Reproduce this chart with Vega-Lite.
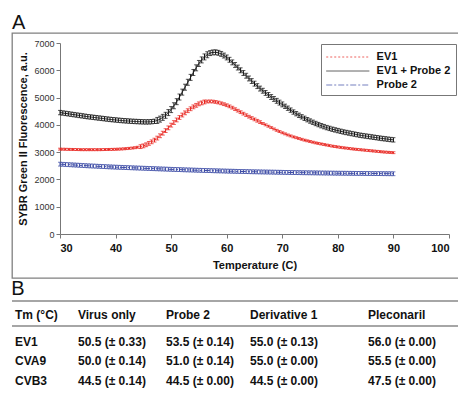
{
"$schema":"https://vega.github.io/schema/vega-lite/v6.json",
"padding":{"left":11,"top":12,"right":0,"bottom":0},
"spacing":0,
"config":{"font":"Liberation Sans","view":{"stroke":null}},
"datasets":{
"curves":[
{"s":"EV1","t":30,"v":3110,"e":35},{"s":"EV1","t":30.5,"v":3108,"e":35},{"s":"EV1","t":31,"v":3105,"e":35},{"s":"EV1","t":31.5,"v":3102,"e":35},{"s":"EV1","t":32,"v":3100,"e":35},{"s":"EV1","t":32.5,"v":3098,"e":35},{"s":"EV1","t":33,"v":3095,"e":35},{"s":"EV1","t":33.5,"v":3092,"e":35},{"s":"EV1","t":34,"v":3090,"e":35},{"s":"EV1","t":34.5,"v":3090,"e":35},{"s":"EV1","t":35,"v":3090,"e":35},{"s":"EV1","t":35.5,"v":3090,"e":35},{"s":"EV1","t":36,"v":3090,"e":35},{"s":"EV1","t":36.5,"v":3090,"e":35},{"s":"EV1","t":37,"v":3090,"e":35},{"s":"EV1","t":37.5,"v":3092,"e":35},{"s":"EV1","t":38,"v":3095,"e":35},{"s":"EV1","t":38.5,"v":3097,"e":35},{"s":"EV1","t":39,"v":3100,"e":35},{"s":"EV1","t":39.5,"v":3102,"e":35},{"s":"EV1","t":40,"v":3105,"e":35},{"s":"EV1","t":40.5,"v":3110,"e":35},{"s":"EV1","t":41,"v":3115,"e":35},{"s":"EV1","t":41.5,"v":3122,"e":35},{"s":"EV1","t":42,"v":3130,"e":35},{"s":"EV1","t":42.5,"v":3140,"e":35},{"s":"EV1","t":43,"v":3150,"e":35},{"s":"EV1","t":43.5,"v":3163,"e":35},{"s":"EV1","t":44,"v":3180,"e":35},{"s":"EV1","t":44.5,"v":3202,"e":70},{"s":"EV1","t":45,"v":3230,"e":70},{"s":"EV1","t":45.5,"v":3270,"e":70},{"s":"EV1","t":46,"v":3320,"e":70},{"s":"EV1","t":46.5,"v":3378,"e":70},{"s":"EV1","t":47,"v":3440,"e":70},{"s":"EV1","t":47.5,"v":3515,"e":70},{"s":"EV1","t":48,"v":3600,"e":70},{"s":"EV1","t":48.5,"v":3695,"e":70},{"s":"EV1","t":49,"v":3790,"e":70},{"s":"EV1","t":49.5,"v":3890,"e":70},{"s":"EV1","t":50,"v":3990,"e":70},{"s":"EV1","t":50.5,"v":4085,"e":70},{"s":"EV1","t":51,"v":4180,"e":70},{"s":"EV1","t":51.5,"v":4270,"e":70},{"s":"EV1","t":52,"v":4360,"e":70},{"s":"EV1","t":52.5,"v":4440,"e":70},{"s":"EV1","t":53,"v":4520,"e":70},{"s":"EV1","t":53.5,"v":4590,"e":70},{"s":"EV1","t":54,"v":4660,"e":70},{"s":"EV1","t":54.5,"v":4715,"e":70},{"s":"EV1","t":55,"v":4770,"e":70},{"s":"EV1","t":55.5,"v":4805,"e":70},{"s":"EV1","t":56,"v":4840,"e":70},{"s":"EV1","t":56.5,"v":4855,"e":50},{"s":"EV1","t":57,"v":4860,"e":50},{"s":"EV1","t":57.5,"v":4855,"e":50},{"s":"EV1","t":58,"v":4840,"e":50},{"s":"EV1","t":58.5,"v":4818,"e":50},{"s":"EV1","t":59,"v":4790,"e":50},{"s":"EV1","t":59.5,"v":4758,"e":50},{"s":"EV1","t":60,"v":4720,"e":50},{"s":"EV1","t":60.5,"v":4678,"e":50},{"s":"EV1","t":61,"v":4630,"e":50},{"s":"EV1","t":61.5,"v":4575,"e":50},{"s":"EV1","t":62,"v":4520,"e":50},{"s":"EV1","t":62.5,"v":4465,"e":50},{"s":"EV1","t":63,"v":4410,"e":50},{"s":"EV1","t":63.5,"v":4355,"e":50},{"s":"EV1","t":64,"v":4300,"e":50},{"s":"EV1","t":64.5,"v":4250,"e":50},{"s":"EV1","t":65,"v":4200,"e":50},{"s":"EV1","t":65.5,"v":4150,"e":50},{"s":"EV1","t":66,"v":4100,"e":50},{"s":"EV1","t":66.5,"v":4050,"e":35},{"s":"EV1","t":67,"v":4000,"e":35},{"s":"EV1","t":67.5,"v":3950,"e":35},{"s":"EV1","t":68,"v":3900,"e":35},{"s":"EV1","t":68.5,"v":3850,"e":35},{"s":"EV1","t":69,"v":3800,"e":35},{"s":"EV1","t":69.5,"v":3755,"e":35},{"s":"EV1","t":70,"v":3710,"e":35},{"s":"EV1","t":70.5,"v":3670,"e":35},{"s":"EV1","t":71,"v":3630,"e":35},{"s":"EV1","t":71.5,"v":3595,"e":35},{"s":"EV1","t":72,"v":3560,"e":35},{"s":"EV1","t":72.5,"v":3530,"e":35},{"s":"EV1","t":73,"v":3500,"e":35},{"s":"EV1","t":73.5,"v":3470,"e":35},{"s":"EV1","t":74,"v":3440,"e":35},{"s":"EV1","t":74.5,"v":3415,"e":35},{"s":"EV1","t":75,"v":3390,"e":35},{"s":"EV1","t":75.5,"v":3365,"e":35},{"s":"EV1","t":76,"v":3340,"e":35},{"s":"EV1","t":76.5,"v":3320,"e":35},{"s":"EV1","t":77,"v":3300,"e":35},{"s":"EV1","t":77.5,"v":3280,"e":35},{"s":"EV1","t":78,"v":3260,"e":35},{"s":"EV1","t":78.5,"v":3240,"e":35},{"s":"EV1","t":79,"v":3220,"e":35},{"s":"EV1","t":79.5,"v":3205,"e":35},{"s":"EV1","t":80,"v":3190,"e":35},{"s":"EV1","t":80.5,"v":3175,"e":35},{"s":"EV1","t":81,"v":3160,"e":35},{"s":"EV1","t":81.5,"v":3148,"e":35},{"s":"EV1","t":82,"v":3135,"e":35},{"s":"EV1","t":82.5,"v":3122,"e":35},{"s":"EV1","t":83,"v":3110,"e":35},{"s":"EV1","t":83.5,"v":3100,"e":35},{"s":"EV1","t":84,"v":3090,"e":35},{"s":"EV1","t":84.5,"v":3080,"e":35},{"s":"EV1","t":85,"v":3070,"e":35},{"s":"EV1","t":85.5,"v":3060,"e":35},{"s":"EV1","t":86,"v":3050,"e":35},{"s":"EV1","t":86.5,"v":3040,"e":35},{"s":"EV1","t":87,"v":3030,"e":35},{"s":"EV1","t":87.5,"v":3020,"e":35},{"s":"EV1","t":88,"v":3010,"e":35},{"s":"EV1","t":88.5,"v":3002,"e":35},{"s":"EV1","t":89,"v":2995,"e":35},{"s":"EV1","t":89.5,"v":2988,"e":35},{"s":"EV1","t":90,"v":2980,"e":35},
{"s":"EV1 + Probe 2","t":30,"v":4450,"e":80},{"s":"EV1 + Probe 2","t":30.5,"v":4435,"e":80},{"s":"EV1 + Probe 2","t":31,"v":4420,"e":80},{"s":"EV1 + Probe 2","t":31.5,"v":4405,"e":80},{"s":"EV1 + Probe 2","t":32,"v":4390,"e":80},{"s":"EV1 + Probe 2","t":32.5,"v":4375,"e":80},{"s":"EV1 + Probe 2","t":33,"v":4360,"e":80},{"s":"EV1 + Probe 2","t":33.5,"v":4345,"e":80},{"s":"EV1 + Probe 2","t":34,"v":4330,"e":80},{"s":"EV1 + Probe 2","t":34.5,"v":4315,"e":80},{"s":"EV1 + Probe 2","t":35,"v":4300,"e":80},{"s":"EV1 + Probe 2","t":35.5,"v":4288,"e":80},{"s":"EV1 + Probe 2","t":36,"v":4275,"e":80},{"s":"EV1 + Probe 2","t":36.5,"v":4262,"e":80},{"s":"EV1 + Probe 2","t":37,"v":4250,"e":80},{"s":"EV1 + Probe 2","t":37.5,"v":4238,"e":80},{"s":"EV1 + Probe 2","t":38,"v":4225,"e":80},{"s":"EV1 + Probe 2","t":38.5,"v":4212,"e":80},{"s":"EV1 + Probe 2","t":39,"v":4200,"e":80},{"s":"EV1 + Probe 2","t":39.5,"v":4190,"e":80},{"s":"EV1 + Probe 2","t":40,"v":4180,"e":80},{"s":"EV1 + Probe 2","t":40.5,"v":4170,"e":80},{"s":"EV1 + Probe 2","t":41,"v":4160,"e":80},{"s":"EV1 + Probe 2","t":41.5,"v":4152,"e":80},{"s":"EV1 + Probe 2","t":42,"v":4145,"e":80},{"s":"EV1 + Probe 2","t":42.5,"v":4138,"e":80},{"s":"EV1 + Probe 2","t":43,"v":4130,"e":80},{"s":"EV1 + Probe 2","t":43.5,"v":4125,"e":80},{"s":"EV1 + Probe 2","t":44,"v":4120,"e":80},{"s":"EV1 + Probe 2","t":44.5,"v":4115,"e":80},{"s":"EV1 + Probe 2","t":45,"v":4110,"e":80},{"s":"EV1 + Probe 2","t":45.5,"v":4108,"e":80},{"s":"EV1 + Probe 2","t":46,"v":4110,"e":80},{"s":"EV1 + Probe 2","t":46.5,"v":4117,"e":80},{"s":"EV1 + Probe 2","t":47,"v":4130,"e":80},{"s":"EV1 + Probe 2","t":47.5,"v":4162,"e":110},{"s":"EV1 + Probe 2","t":48,"v":4210,"e":110},{"s":"EV1 + Probe 2","t":48.5,"v":4275,"e":110},{"s":"EV1 + Probe 2","t":49,"v":4350,"e":110},{"s":"EV1 + Probe 2","t":49.5,"v":4450,"e":110},{"s":"EV1 + Probe 2","t":50,"v":4560,"e":110},{"s":"EV1 + Probe 2","t":50.5,"v":4700,"e":110},{"s":"EV1 + Probe 2","t":51,"v":4850,"e":110},{"s":"EV1 + Probe 2","t":51.5,"v":5020,"e":110},{"s":"EV1 + Probe 2","t":52,"v":5200,"e":110},{"s":"EV1 + Probe 2","t":52.5,"v":5380,"e":110},{"s":"EV1 + Probe 2","t":53,"v":5560,"e":110},{"s":"EV1 + Probe 2","t":53.5,"v":5740,"e":110},{"s":"EV1 + Probe 2","t":54,"v":5920,"e":110},{"s":"EV1 + Probe 2","t":54.5,"v":6090,"e":110},{"s":"EV1 + Probe 2","t":55,"v":6250,"e":110},{"s":"EV1 + Probe 2","t":55.5,"v":6380,"e":110},{"s":"EV1 + Probe 2","t":56,"v":6490,"e":110},{"s":"EV1 + Probe 2","t":56.5,"v":6570,"e":110},{"s":"EV1 + Probe 2","t":57,"v":6630,"e":90},{"s":"EV1 + Probe 2","t":57.5,"v":6655,"e":90},{"s":"EV1 + Probe 2","t":58,"v":6660,"e":90},{"s":"EV1 + Probe 2","t":58.5,"v":6640,"e":90},{"s":"EV1 + Probe 2","t":59,"v":6600,"e":90},{"s":"EV1 + Probe 2","t":59.5,"v":6540,"e":90},{"s":"EV1 + Probe 2","t":60,"v":6470,"e":90},{"s":"EV1 + Probe 2","t":60.5,"v":6385,"e":90},{"s":"EV1 + Probe 2","t":61,"v":6290,"e":90},{"s":"EV1 + Probe 2","t":61.5,"v":6195,"e":90},{"s":"EV1 + Probe 2","t":62,"v":6100,"e":90},{"s":"EV1 + Probe 2","t":62.5,"v":6000,"e":90},{"s":"EV1 + Probe 2","t":63,"v":5900,"e":90},{"s":"EV1 + Probe 2","t":63.5,"v":5800,"e":90},{"s":"EV1 + Probe 2","t":64,"v":5700,"e":90},{"s":"EV1 + Probe 2","t":64.5,"v":5605,"e":90},{"s":"EV1 + Probe 2","t":65,"v":5510,"e":90},{"s":"EV1 + Probe 2","t":65.5,"v":5420,"e":90},{"s":"EV1 + Probe 2","t":66,"v":5330,"e":90},{"s":"EV1 + Probe 2","t":66.5,"v":5250,"e":90},{"s":"EV1 + Probe 2","t":67,"v":5170,"e":90},{"s":"EV1 + Probe 2","t":67.5,"v":5095,"e":90},{"s":"EV1 + Probe 2","t":68,"v":5020,"e":90},{"s":"EV1 + Probe 2","t":68.5,"v":4950,"e":90},{"s":"EV1 + Probe 2","t":69,"v":4880,"e":90},{"s":"EV1 + Probe 2","t":69.5,"v":4815,"e":90},{"s":"EV1 + Probe 2","t":70,"v":4750,"e":90},{"s":"EV1 + Probe 2","t":70.5,"v":4680,"e":80},{"s":"EV1 + Probe 2","t":71,"v":4610,"e":80},{"s":"EV1 + Probe 2","t":71.5,"v":4540,"e":80},{"s":"EV1 + Probe 2","t":72,"v":4470,"e":80},{"s":"EV1 + Probe 2","t":72.5,"v":4410,"e":80},{"s":"EV1 + Probe 2","t":73,"v":4350,"e":80},{"s":"EV1 + Probe 2","t":73.5,"v":4295,"e":80},{"s":"EV1 + Probe 2","t":74,"v":4240,"e":80},{"s":"EV1 + Probe 2","t":74.5,"v":4190,"e":80},{"s":"EV1 + Probe 2","t":75,"v":4140,"e":80},{"s":"EV1 + Probe 2","t":75.5,"v":4095,"e":80},{"s":"EV1 + Probe 2","t":76,"v":4050,"e":80},{"s":"EV1 + Probe 2","t":76.5,"v":4010,"e":80},{"s":"EV1 + Probe 2","t":77,"v":3970,"e":80},{"s":"EV1 + Probe 2","t":77.5,"v":3935,"e":80},{"s":"EV1 + Probe 2","t":78,"v":3900,"e":80},{"s":"EV1 + Probe 2","t":78.5,"v":3870,"e":80},{"s":"EV1 + Probe 2","t":79,"v":3840,"e":80},{"s":"EV1 + Probe 2","t":79.5,"v":3815,"e":80},{"s":"EV1 + Probe 2","t":80,"v":3790,"e":80},{"s":"EV1 + Probe 2","t":80.5,"v":3765,"e":80},{"s":"EV1 + Probe 2","t":81,"v":3740,"e":80},{"s":"EV1 + Probe 2","t":81.5,"v":3720,"e":80},{"s":"EV1 + Probe 2","t":82,"v":3700,"e":80},{"s":"EV1 + Probe 2","t":82.5,"v":3680,"e":80},{"s":"EV1 + Probe 2","t":83,"v":3660,"e":80},{"s":"EV1 + Probe 2","t":83.5,"v":3640,"e":80},{"s":"EV1 + Probe 2","t":84,"v":3620,"e":80},{"s":"EV1 + Probe 2","t":84.5,"v":3605,"e":80},{"s":"EV1 + Probe 2","t":85,"v":3590,"e":80},{"s":"EV1 + Probe 2","t":85.5,"v":3575,"e":80},{"s":"EV1 + Probe 2","t":86,"v":3560,"e":80},{"s":"EV1 + Probe 2","t":86.5,"v":3545,"e":80},{"s":"EV1 + Probe 2","t":87,"v":3530,"e":80},{"s":"EV1 + Probe 2","t":87.5,"v":3515,"e":80},{"s":"EV1 + Probe 2","t":88,"v":3500,"e":80},{"s":"EV1 + Probe 2","t":88.5,"v":3488,"e":80},{"s":"EV1 + Probe 2","t":89,"v":3475,"e":80},{"s":"EV1 + Probe 2","t":89.5,"v":3462,"e":80},{"s":"EV1 + Probe 2","t":90,"v":3450,"e":80},
{"s":"Probe 2","t":30,"v":2560,"e":70},{"s":"Probe 2","t":30.5,"v":2554,"e":70},{"s":"Probe 2","t":31,"v":2548,"e":70},{"s":"Probe 2","t":31.5,"v":2542,"e":70},{"s":"Probe 2","t":32,"v":2536,"e":70},{"s":"Probe 2","t":32.5,"v":2530,"e":70},{"s":"Probe 2","t":33,"v":2524,"e":70},{"s":"Probe 2","t":33.5,"v":2518,"e":70},{"s":"Probe 2","t":34,"v":2512,"e":70},{"s":"Probe 2","t":34.5,"v":2506,"e":70},{"s":"Probe 2","t":35,"v":2500,"e":70},{"s":"Probe 2","t":35.5,"v":2495,"e":70},{"s":"Probe 2","t":36,"v":2490,"e":70},{"s":"Probe 2","t":36.5,"v":2485,"e":70},{"s":"Probe 2","t":37,"v":2480,"e":70},{"s":"Probe 2","t":37.5,"v":2475,"e":70},{"s":"Probe 2","t":38,"v":2470,"e":70},{"s":"Probe 2","t":38.5,"v":2465,"e":70},{"s":"Probe 2","t":39,"v":2460,"e":70},{"s":"Probe 2","t":39.5,"v":2455,"e":70},{"s":"Probe 2","t":40,"v":2450,"e":70},{"s":"Probe 2","t":40.5,"v":2446,"e":70},{"s":"Probe 2","t":41,"v":2442,"e":70},{"s":"Probe 2","t":41.5,"v":2438,"e":70},{"s":"Probe 2","t":42,"v":2434,"e":70},{"s":"Probe 2","t":42.5,"v":2430,"e":70},{"s":"Probe 2","t":43,"v":2426,"e":70},{"s":"Probe 2","t":43.5,"v":2422,"e":70},{"s":"Probe 2","t":44,"v":2418,"e":70},{"s":"Probe 2","t":44.5,"v":2414,"e":70},{"s":"Probe 2","t":45,"v":2410,"e":70},{"s":"Probe 2","t":45.5,"v":2406,"e":70},{"s":"Probe 2","t":46,"v":2402,"e":70},{"s":"Probe 2","t":46.5,"v":2398,"e":70},{"s":"Probe 2","t":47,"v":2394,"e":70},{"s":"Probe 2","t":47.5,"v":2390,"e":70},{"s":"Probe 2","t":48,"v":2386,"e":70},{"s":"Probe 2","t":48.5,"v":2382,"e":70},{"s":"Probe 2","t":49,"v":2378,"e":70},{"s":"Probe 2","t":49.5,"v":2374,"e":70},{"s":"Probe 2","t":50,"v":2370,"e":70},{"s":"Probe 2","t":50.5,"v":2366,"e":70},{"s":"Probe 2","t":51,"v":2363,"e":70},{"s":"Probe 2","t":51.5,"v":2360,"e":70},{"s":"Probe 2","t":52,"v":2356,"e":70},{"s":"Probe 2","t":52.5,"v":2352,"e":70},{"s":"Probe 2","t":53,"v":2349,"e":70},{"s":"Probe 2","t":53.5,"v":2346,"e":70},{"s":"Probe 2","t":54,"v":2342,"e":70},{"s":"Probe 2","t":54.5,"v":2338,"e":70},{"s":"Probe 2","t":55,"v":2335,"e":70},{"s":"Probe 2","t":55.5,"v":2332,"e":70},{"s":"Probe 2","t":56,"v":2329,"e":70},{"s":"Probe 2","t":56.5,"v":2326,"e":70},{"s":"Probe 2","t":57,"v":2323,"e":70},{"s":"Probe 2","t":57.5,"v":2320,"e":70},{"s":"Probe 2","t":58,"v":2317,"e":70},{"s":"Probe 2","t":58.5,"v":2314,"e":70},{"s":"Probe 2","t":59,"v":2311,"e":70},{"s":"Probe 2","t":59.5,"v":2308,"e":70},{"s":"Probe 2","t":60,"v":2305,"e":70},{"s":"Probe 2","t":60.5,"v":2302,"e":70},{"s":"Probe 2","t":61,"v":2300,"e":70},{"s":"Probe 2","t":61.5,"v":2297,"e":70},{"s":"Probe 2","t":62,"v":2295,"e":70},{"s":"Probe 2","t":62.5,"v":2292,"e":70},{"s":"Probe 2","t":63,"v":2290,"e":70},{"s":"Probe 2","t":63.5,"v":2287,"e":70},{"s":"Probe 2","t":64,"v":2285,"e":70},{"s":"Probe 2","t":64.5,"v":2282,"e":70},{"s":"Probe 2","t":65,"v":2280,"e":70},{"s":"Probe 2","t":65.5,"v":2278,"e":70},{"s":"Probe 2","t":66,"v":2276,"e":70},{"s":"Probe 2","t":66.5,"v":2274,"e":70},{"s":"Probe 2","t":67,"v":2272,"e":70},{"s":"Probe 2","t":67.5,"v":2270,"e":70},{"s":"Probe 2","t":68,"v":2268,"e":70},{"s":"Probe 2","t":68.5,"v":2266,"e":70},{"s":"Probe 2","t":69,"v":2264,"e":70},{"s":"Probe 2","t":69.5,"v":2262,"e":70},{"s":"Probe 2","t":70,"v":2260,"e":70},{"s":"Probe 2","t":70.5,"v":2258,"e":70},{"s":"Probe 2","t":71,"v":2256,"e":70},{"s":"Probe 2","t":71.5,"v":2254,"e":70},{"s":"Probe 2","t":72,"v":2252,"e":70},{"s":"Probe 2","t":72.5,"v":2250,"e":70},{"s":"Probe 2","t":73,"v":2249,"e":70},{"s":"Probe 2","t":73.5,"v":2247,"e":70},{"s":"Probe 2","t":74,"v":2246,"e":70},{"s":"Probe 2","t":74.5,"v":2244,"e":70},{"s":"Probe 2","t":75,"v":2243,"e":70},{"s":"Probe 2","t":75.5,"v":2241,"e":70},{"s":"Probe 2","t":76,"v":2240,"e":70},{"s":"Probe 2","t":76.5,"v":2238,"e":70},{"s":"Probe 2","t":77,"v":2237,"e":70},{"s":"Probe 2","t":77.5,"v":2235,"e":70},{"s":"Probe 2","t":78,"v":2234,"e":70},{"s":"Probe 2","t":78.5,"v":2232,"e":70},{"s":"Probe 2","t":79,"v":2231,"e":70},{"s":"Probe 2","t":79.5,"v":2229,"e":70},{"s":"Probe 2","t":80,"v":2228,"e":70},{"s":"Probe 2","t":80.5,"v":2227,"e":70},{"s":"Probe 2","t":81,"v":2226,"e":70},{"s":"Probe 2","t":81.5,"v":2225,"e":70},{"s":"Probe 2","t":82,"v":2224,"e":70},{"s":"Probe 2","t":82.5,"v":2223,"e":70},{"s":"Probe 2","t":83,"v":2222,"e":70},{"s":"Probe 2","t":83.5,"v":2221,"e":70},{"s":"Probe 2","t":84,"v":2220,"e":70},{"s":"Probe 2","t":84.5,"v":2219,"e":70},{"s":"Probe 2","t":85,"v":2218,"e":70},{"s":"Probe 2","t":85.5,"v":2217,"e":70},{"s":"Probe 2","t":86,"v":2216,"e":70},{"s":"Probe 2","t":86.5,"v":2215,"e":70},{"s":"Probe 2","t":87,"v":2214,"e":70},{"s":"Probe 2","t":87.5,"v":2213,"e":70},{"s":"Probe 2","t":88,"v":2212,"e":70},{"s":"Probe 2","t":88.5,"v":2211,"e":70},{"s":"Probe 2","t":89,"v":2210,"e":70},{"s":"Probe 2","t":89.5,"v":2209,"e":70},{"s":"Probe 2","t":90,"v":2208,"e":70}
],
"tbl":[
{"r":0,"c":1,"txt":"Tm (°C)"},{"r":0,"c":2,"txt":"Virus only"},{"r":0,"c":3,"txt":"Probe 2"},{"r":0,"c":4,"txt":"Derivative 1"},{"r":0,"c":5,"txt":"Pleconaril"},
{"r":1,"c":1,"txt":"EV1"},{"r":1,"c":2,"txt":"50.5 (± 0.33)"},{"r":1,"c":3,"txt":"53.5 (± 0.14)"},{"r":1,"c":4,"txt":"55.0 (± 0.13)"},{"r":1,"c":5,"txt":"56.0 (± 0.00)"},
{"r":2,"c":1,"txt":"CVA9"},{"r":2,"c":2,"txt":"50.0 (± 0.14)"},{"r":2,"c":3,"txt":"51.0 (± 0.14)"},{"r":2,"c":4,"txt":"55.0 (± 0.00)"},{"r":2,"c":5,"txt":"55.5 (± 0.00)"},
{"r":3,"c":1,"txt":"CVB3"},{"r":3,"c":2,"txt":"44.5 (± 0.14)"},{"r":3,"c":3,"txt":"44.5 (± 0.00)"},{"r":3,"c":4,"txt":"44.5 (± 0.00)"},{"r":3,"c":5,"txt":"47.5 (± 0.00)"}
]
},
"vconcat":[
{
"title":{"text":"A","anchor":"start","fontSize":20,"fontWeight":"normal","color":"#111","offset":0},
"width":448,"height":245,
"view":{"stroke":"#808080","strokeWidth":1.3},
"data":{"name":"curves"},
"transform":[{"calculate":"datum.v - datum.e","as":"lo"},{"calculate":"datum.v + datum.e","as":"hi"}],
"encoding":{
"x":{"field":"t","type":"quantitative","scale":{"domain":[30,100],"range":[48,437],"nice":false,"zero":false},
"axis":{"offset":-44,"values":[30,40,50,60,70,80,90,100],"grid":false,"domainColor":"#777","tickColor":"#777","tickSize":4,"labelFontSize":11,"labelFontWeight":"bold","labelColor":"#111","labelPadding":4,"title":"Temperature (C)","titleFontSize":11,"titleFontWeight":"bold","titleColor":"#111","titlePadding":6}},
"color":{"field":"s","type":"nominal","scale":{"domain":["EV1","EV1 + Probe 2","Probe 2"],"range":["#e8211b","#111111","#3b4aa5"]},
"legend":{"orient":"none","legendX":309,"legendY":11,"title":null,"strokeColor":"#777","fillColor":"white","padding":5,"symbolType":"M-3,0L3,0","symbolSize":207,"symbolOffset":13.8,"symbolStrokeWidth":1,"labelFontSize":11,"labelFontWeight":"bold","labelColor":"#111","labelOffset":20.8,"rowPadding":1}}
},
"layer":[
{"mark":{"type":"rule","strokeWidth":1},
"encoding":{"y":{"field":"lo","type":"quantitative","scale":{"domain":[0,7000],"range":[201,10],"nice":false,"zero":false},
"axis":{"offset":-48,"values":[0,1000,2000,3000,4000,5000,6000,7000],"format":"d","labelOverlap":false,"grid":false,"domainColor":"#777","tickColor":"#777","tickSize":4,"labelFontSize":9,"labelColor":"#333","labelPadding":2,"title":"SYBR Green II Fluorescence, a.u.","titleFontSize":11,"titleFontWeight":"bold","titleColor":"#111","titlePadding":5}},
"y2":{"field":"hi"}}},
{"mark":{"type":"tick","orient":"horizontal","size":4,"thickness":1},
"encoding":{"y":{"field":"lo","type":"quantitative",
"axis":{"offset":-48,"values":[0,1000,2000,3000,4000,5000,6000,7000],"format":"d","labelOverlap":false,"grid":false,"domainColor":"#777","tickColor":"#777","tickSize":4,"labelFontSize":9,"labelColor":"#333","labelPadding":2,"title":"SYBR Green II Fluorescence, a.u.","titleFontSize":11,"titleFontWeight":"bold","titleColor":"#111","titlePadding":5}}}},
{"mark":{"type":"tick","orient":"horizontal","size":4,"thickness":1},
"encoding":{"y":{"field":"hi","type":"quantitative",
"axis":{"offset":-48,"values":[0,1000,2000,3000,4000,5000,6000,7000],"format":"d","labelOverlap":false,"grid":false,"domainColor":"#777","tickColor":"#777","tickSize":4,"labelFontSize":9,"labelColor":"#333","labelPadding":2,"title":"SYBR Green II Fluorescence, a.u.","titleFontSize":11,"titleFontWeight":"bold","titleColor":"#111","titlePadding":5}}}},
{"mark":{"type":"line","strokeWidth":1},
"encoding":{
"y":{"field":"v","type":"quantitative",
"axis":{"offset":-48,"values":[0,1000,2000,3000,4000,5000,6000,7000],"format":"d","labelOverlap":false,"grid":false,"domainColor":"#777","tickColor":"#777","tickSize":4,"labelFontSize":9,"labelColor":"#333","labelPadding":2,"title":"SYBR Green II Fluorescence, a.u.","titleFontSize":11,"titleFontWeight":"bold","titleColor":"#111","titlePadding":5}},
"strokeDash":{"field":"s","type":"nominal","scale":{"domain":["EV1","EV1 + Probe 2","Probe 2"],"range":[[2,2],[1,0],[6,2,2,2]]},"legend":{"orient":"none","legendX":309,"legendY":11,"title":null}}
}}
]
},
{
"title":{"text":"B","anchor":"start","fontSize":20,"fontWeight":"normal","color":"#111","offset":1},
"width":447,"height":90,
"view":{"stroke":null},
"layer":[
{"data":{"name":"tbl"},"mark":{"type":"text","align":"left","baseline":"middle","fontSize":12,"fontWeight":"bold","color":"#111"},
"encoding":{
"x":{"field":"c","type":"quantitative","scale":{"domain":[1,2,3,4,5],"range":[3,66,154,238,356],"nice":false,"zero":false},"axis":null},
"y":{"field":"r","type":"quantitative","scale":{"domain":[0,1,2,3],"range":[14,41,60,80],"nice":false,"zero":false},"axis":null},
"text":{"field":"txt"}}},
{"data":{"values":[{"k":"top"}]},"mark":{"type":"rule","color":"#888","strokeWidth":1.5},
"encoding":{"y":{"datum":-0.52,"type":"quantitative","axis":null}}},
{"data":{"values":[{"k":"head"}]},"mark":{"type":"rule","color":"#888","strokeWidth":1.5},
"encoding":{"y":{"datum":0.41,"type":"quantitative","axis":null}}}
]
}
]
}
